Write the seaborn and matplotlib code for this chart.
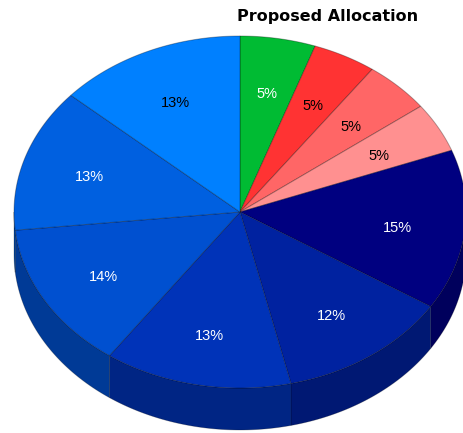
import numpy as np
import matplotlib
matplotlib.use("Agg")
import matplotlib.pyplot as plt
from matplotlib.patches import Polygon
import seaborn as sns

sns.set_theme(style="white")
plt.rcParams["font.family"] = ["Liberation Sans", "DejaVu Sans"]

# Allocation shares (%), clockwise from 12 o'clock
shares = [5.4, 4.55, 4.8, 4.55, 14.72, 12.36, 13.42, 13.55, 13.19, 13.46]
colors = ["#00bb33", "#ff3333", "#ff6666", "#ff9090", "#000080",
          "#0022a0", "#0033b8", "#0050d0", "#0060e0", "#0080ff"]
label_colors = ["white", "black", "black", "black", "white",
                "white", "white", "white", "white", "black"]
title = "Proposed Allocation"

# Geometry of the tilted pie (pixel units)
cx, cy, rx, ry, depth = 240, 212, 226, 176, 42

fig = plt.figure(figsize=(4.63, 4.33), dpi=100)
ax = fig.add_axes([0, 0, 1, 1])
ax.set_xlim(0, 463)
ax.set_ylim(433, 0)
ax.axis("off")


def rim(t0, t1, n=120, dy=0.0):
    t = np.radians(np.linspace(t0, t1, n))
    return np.column_stack([cx + rx * np.sin(t), cy - ry * np.cos(t) + dy])


def darker(c, f=0.72):
    r, g, b = matplotlib.colors.to_rgb(c)
    return (r * f, g * f, b * f)


bounds = np.concatenate([[0], np.cumsum(shares)]) / sum(shares) * 360

# Side walls (only the front half, 90..270 degrees, is visible)
for i, c in enumerate(colors):
    a, b = max(bounds[i], 90), min(bounds[i + 1], 270)
    if b <= a:
        continue
    top = rim(a, b)
    bot = rim(a, b, dy=depth)[::-1]
    ax.add_patch(Polygon(np.vstack([top, bot]), closed=True,
                         facecolor=darker(c), edgecolor=(0, 0, 0, 0.25),
                         linewidth=0.6, zorder=1))

# Top faces
for i, c in enumerate(colors):
    pts = np.vstack([[cx, cy], rim(bounds[i], bounds[i + 1])])
    ax.add_patch(Polygon(pts, closed=True, facecolor=c,
                         edgecolor=(0, 0, 0, 0.3), linewidth=0.7, zorder=2))

# Percentage labels
for i, s in enumerate(shares):
    m = np.radians((bounds[i] + bounds[i + 1]) / 2)
    f = 0.7
    ax.text(cx + rx * f * np.sin(m), cy - ry * f * np.cos(m) + 3, f"{s:.0f}%",
            ha="center", va="center", fontsize=10.5,
            color=label_colors[i], zorder=3)

ax.text(328, 17, title, ha="center", va="center", fontsize=11.5,
        fontweight="bold", family=["DejaVu Sans"], color="black")

fig.savefig("out.png", dpi=100)
